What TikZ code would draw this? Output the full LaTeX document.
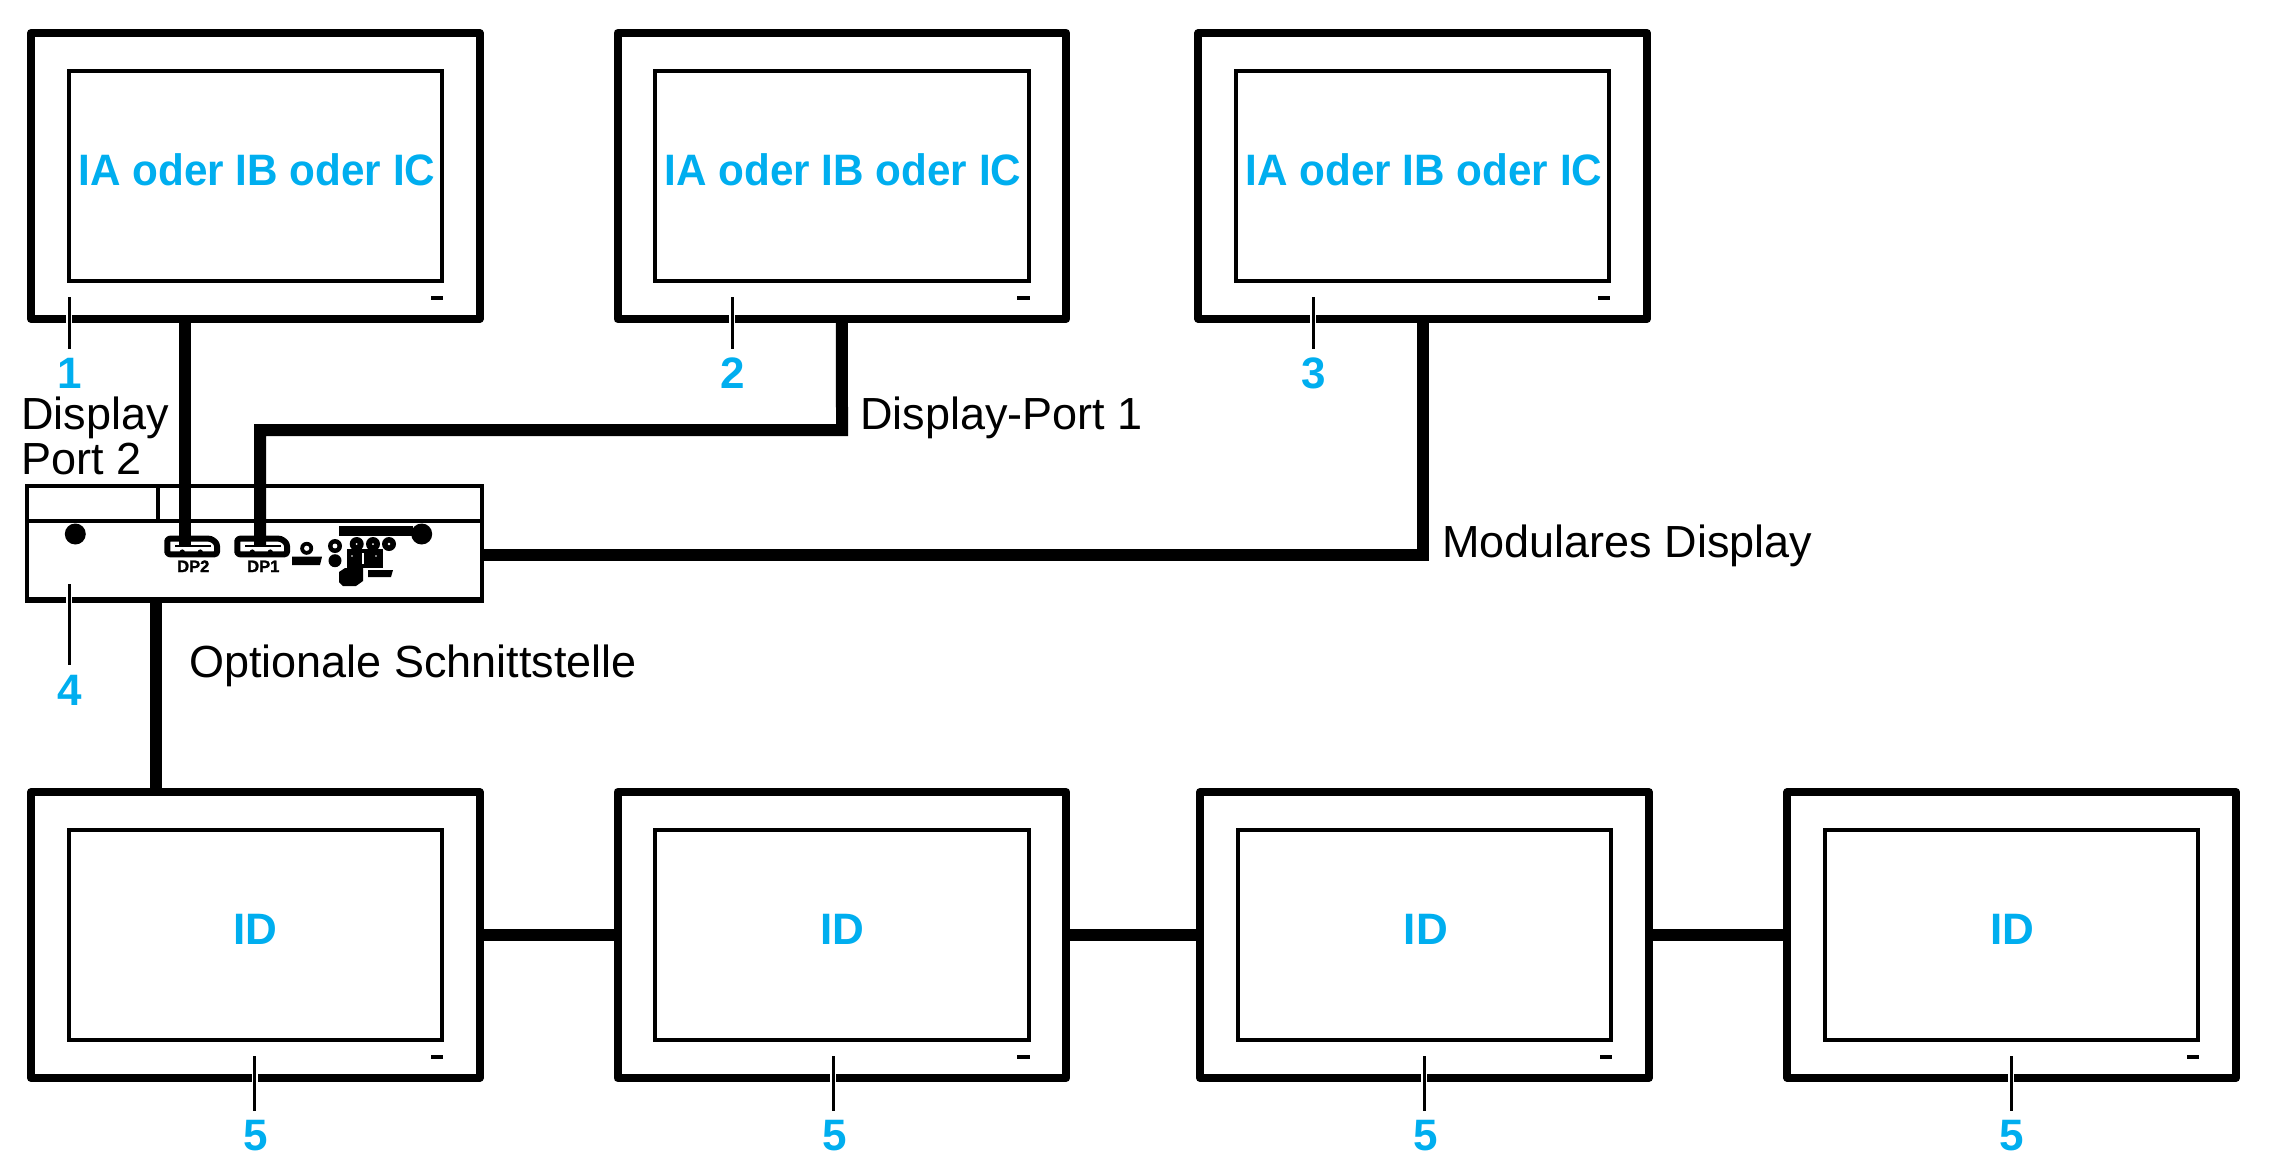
\documentclass[tikz,border=0pt]{standalone}
\usepackage{fontspec}
\setmainfont{Liberation Sans}
\newfontfamily\portfont[FakeBold=1.6]{Liberation Sans Bold}
\definecolor{callout}{HTML}{00AEEF}
\tikzset{
  x=1pt,y=-1pt,
  frame/.style={draw=black,fill=white,line width=8pt,line join=round,inner sep=0pt,outer sep=4pt,minimum width=448.7pt,minimum height=286pt},
  screen/.style={draw=black,fill=white,line width=4pt,inner sep=0pt,outer sep=2pt,minimum width=373.3pt,minimum height=210pt},
  cable/.style={draw=black,line width=12pt},
  leader/.style={draw=black,line width=3pt},
  halo/.style={draw=white,line width=6pt},
  bluetext/.style={text=callout,inner sep=0pt,anchor=base,font=\fontsize{44}{50}\selectfont\bfseries},
  blacktext/.style={text=black,inner sep=0pt,anchor=base west,font=\fontsize{45}{50}\selectfont},
  porttext/.style={text=black,inner sep=0pt,anchor=base,font=\fontsize{16.5}{18}\portfont},
  portoutline/.style={draw=black,fill=white,line width=6pt,rounded corners=2.5pt,line join=round}
}
% #1 name, #2 left, #3 top, #4 screen text, #5 text x, #6 leader x, #7 number, #8 number x, #9 row shift of the number
\newcommand{\displayunit}[9]{
  \node[frame] (#1) at (#2+228.35,#3+147) {};
  \node[screen] (#1s) at (#1.center) {};
  \node[bluetext] (#1t) at (#5,#3+156) {#4};
  \fill[black] (#2+403.5,#3+266.5) rectangle (#2+416,#3+270.7);
  \coordinate (#1a) at (#6,#3+268);
  \coordinate (#1b) at (#6,#3+320+#9);
  \draw[halo] (#1a) -- (#1b);
  \draw[leader] (#1a) -- (#1b);
  \node[bluetext] (#1n) at (#8,#3+359+#9) {#7};
}
% #1 left, #2 label, #3 node name
\newcommand{\dpport}[3]{
  \draw[portoutline] (#1+3,538.7) -- (#1+47,538.7) -- (#1+52.7,543.5) -- (#1+52.7,554.3) -- (#1+3,554.3) -- cycle;
  \fill[black] (#1+11,545.2) rectangle (#1+47,547.2);
  \fill[black] (#1+18,552) circle (2.6);
  \fill[black] (#1+36,552) circle (2.6);
  \node[porttext] (#3) at (#1+29,572) {#2};
}
\begin{document}
\begin{tikzpicture}
\useasboundingbox (0,0) rectangle (2286,1170);
% rack unit
\node[draw=black,fill=white,line width=4pt,inner sep=0pt,outer sep=2pt,minimum width=455pt,minimum height=115.5pt] (box) at (254.5,543.5) {};
\fill[black] (25,597) rectangle (484,603);
\draw[black,line width=4.4pt] (27,521.2) -- (482,521.2);
\draw[black,line width=3.6pt,rounded corners=2pt] (29,521) -- (158,521) -- (158,486);
\fill[black] (75.3,534) circle (10.5);
\fill[black] (421.7,534) circle (10.5);
\dpport{164.3}{DP2}{dpb}
\dpport{234.3}{DP1}{dpa}
% jacks and small blocks of the rear panel
\fill[black] (339,526) rectangle (413,536);
\fill[black] (292,556.7) -- (322,556.7) -- (320,565) -- (292,565) -- cycle;
\fill[black] (347,549) rectangle (383,568);
\fill[black] (339,572) -- (345,568) -- (363,568) -- (363,581) -- (356,586) -- (343,586) -- (339,582) -- cycle;
\fill[black] (368,570) -- (393,570) -- (391,577) -- (368,577) -- cycle;
\foreach \cx/\cy/\r/\h in {306.7/548.3/6.5/2.6, 335/546/7/2.4, 356.7/544/7/1, 373/544/7/1, 389/544/7/1.4}{
  \fill[black] (\cx,\cy) circle (\r);
  \fill[white] (\cx,\cy) circle (\h);
}
\fill[black] (335,560.7) circle (6.5);
\fill[white] (362,553) rectangle (363.5,564);
\fill[white] (352,556) circle (0.8);
\fill[white] (376,556) circle (0.8);
% displays
\displayunit{ma}{27}{29}{\scalebox{.96}[1]{IA oder IB oder IC}}{256.9}{69.3}{1}{69.5}{0}
\displayunit{mb}{613.6}{29}{\scalebox{.96}[1]{IA oder IB oder IC}}{843}{732.3}{2}{732.5}{0}
\displayunit{mc}{1194.3}{29}{\scalebox{.96}[1]{IA oder IB oder IC}}{1424}{1313.3}{3}{1313.5}{0}
\displayunit{na}{27}{788}{ID}{255}{254.6}{5}{256}{3}
\displayunit{nb}{613.6}{788}{ID}{842}{833}{5}{835}{3}
\displayunit{nc}{1196}{788}{ID}{1425.8}{1424.3}{5}{1425.5}{3}
\displayunit{nd}{1783.3}{788}{ID}{2012.5}{2011.3}{5}{2012}{3}
% unit callout
\coordinate (boxa) at (69.3,584);
\coordinate (boxb) at (69.3,665);
\draw[halo] (boxa) -- (boxb);
\draw[leader] (boxa) -- (boxb);
\node[bluetext] (boxn) at (69.3,705) {4};
% cables
\coordinate (enda) at (185,546);
\coordinate (endb) at (260,546);
\coordinate (rightout) at (484,555);
\coordinate (downout) at (156,603);
\draw[cable] (ma.south -| enda) -- (enda);
\draw[cable] (mb.south) -- (842,430) -- (260,430) -- (endb);
\draw[cable] (mc.south -| 1423,0) |- (rightout);
\draw[cable] (downout) -- (na.north -| downout);
\draw[cable] (na.east) -- (nb.west);
\draw[cable] (nb.east) -- (nc.west);
\draw[cable] (nc.east) -- (nd.west);
% labels
\node[blacktext] (lab2a) at (21,429) {Display};
\node[blacktext] (lab2b) at (21,474.5) {Port 2};
\node[blacktext] (lab1) at (860,429.3) {Display-Port 1};
\node[blacktext] (lab3) at (1442,557.7) {Modulares Display};
\node[blacktext] (lab4) at (189,677.2) {Optionale Schnittstelle};
\end{tikzpicture}
\end{document}
